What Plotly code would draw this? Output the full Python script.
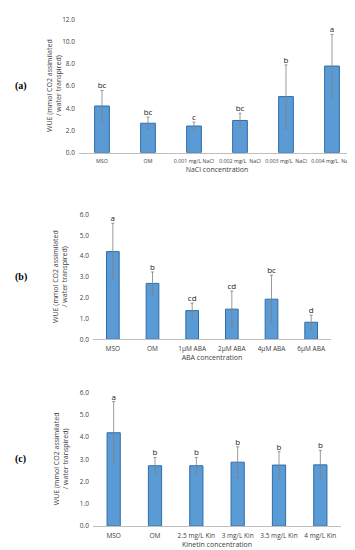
import plotly.graph_objects as go

# Panel (a) NaCl
cat_a = ["MSO", "OM", "0.001 mg/L NaCl", "0.002 mg/L  NaCl", "0.003 mg/L  NaCl", "0.004 mg/L  NaCl"]
val_a = [4.2, 2.65, 2.4, 2.9, 5.05, 7.8]
err_a = [1.4, 0.55, 0.35, 0.65, 2.85, 2.85]
let_a = ["bc", "bc", "c", "bc", "b", "a"]

# Panel (b) ABA
cat_b = ["MSO", "OM", "1\u00b5M ABA", "2\u00b5M ABA", "4\u00b5M ABA", "6\u00b5M ABA"]
val_b = [4.22, 2.69, 1.38, 1.45, 1.93, 0.82]
err_b = [1.36, 0.55, 0.36, 0.87, 1.15, 0.34]
let_b = ["a", "b", "cd", "cd", "bc", "d"]

# Panel (c) Kinetin
cat_c = ["MSO", "OM", "2.5 mg/L Kin", "3 mg/L Kin", "3.5 mg/L Kin", "4 mg/L Kin"]
val_c = [4.19, 2.71, 2.71, 2.87, 2.74, 2.75]
err_c = [1.4, 0.37, 0.37, 0.69, 0.6, 0.65]
let_c = ["a", "b", "b", "b", "b", "b"]

x_titles = ["NaCl concentration", "ABA concentration", "Kinetin concentration"]
panel_labels = ["(a)", "(b)", "(c)"]
y_ranges = [[0, 12], [0, 6], [0, 6]]
y_ticks = [[0, 2, 4, 6, 8, 10, 12], [0, 1, 2, 3, 4, 5, 6], [0, 1, 2, 3, 4, 5, 6]]

W, H = 355, 550
def px_x(a, b):
    return [a / W, b / W]
def px_y(top, bottom):
    return [(H - bottom) / H, (H - top) / H]

x_dom = [px_x(71, 347), px_x(85, 323), px_x(85, 333)]
y_dom = [px_y(6.5, 142), px_y(205, 331.7), px_y(385.7, 521.7)]
ytitle_right = [57, 63, 64]
tick_sizes = [5.3, 6.5, 6.5]

BAR = "#5B9BD5"
EDGE = "#2F6DA8"
FONT = "Open Sans"

fig = go.Figure()
panels = [(cat_a, val_a, err_a, let_a), (cat_b, val_b, err_b, let_b), (cat_c, val_c, err_c, let_c)]
for i, (cats, vals, errs, lets) in enumerate(panels):
    n = i + 1
    xa = "x" if n == 1 else f"x{n}"
    ya = "y" if n == 1 else f"y{n}"
    fig.add_trace(go.Bar(
        x=cats, y=vals, xaxis=xa, yaxis=ya, width=0.32,
        marker=dict(color=BAR, line=dict(color=EDGE, width=1)),
        error_y=dict(type="data", array=errs, color="#808080", thickness=0.8, width=1.5),
        showlegend=False,
    ))
    fig.add_trace(go.Scatter(
        x=cats, y=[v + e for v, e in zip(vals, errs)], xaxis=xa, yaxis=ya,
        mode="text", text=lets, textposition="top center",
        textfont=dict(family=FONT, size=8, color="#222222"),
        showlegend=False, cliponaxis=False,
    ))
    fig.update_layout(**{
        ("xaxis" if n == 1 else f"xaxis{n}"): dict(
            domain=x_dom[i], anchor=ya, type="category",
            showline=True, linecolor="#BFBFBF", linewidth=1, showgrid=False,
            ticks="", ticklabelstandoff=3,
            tickfont=dict(family=FONT, size=tick_sizes[i], color="#404040"),
            tickangle=0,
            title=dict(text=x_titles[i], font=dict(family=FONT, size=7, color="#404040"), standoff=2),
        ),
        ("yaxis" if n == 1 else f"yaxis{n}"): dict(
            domain=y_dom[i], anchor=xa, range=y_ranges[i], tickvals=y_ticks[i],
            tickformat=".1f", showgrid=False, showline=False, zeroline=False, ticks="",
            ticklabelstandoff=3,
            tickfont=dict(family=FONT, size=6.5, color="#404040"),
        ),
    })
    ymid = (y_dom[i][0] + y_dom[i][1]) / 2
    fig.add_annotation(
        text="WUE (mmol CO2 assimilated<br>/ water transpired)",
        xref="paper", yref="paper", x=ytitle_right[i] / W, y=ymid,
        textangle=-90, showarrow=False, xanchor="right", yanchor="middle",
        font=dict(family=FONT, size=7, color="#404040"),
    )
    fig.add_annotation(
        text=f"<b>{panel_labels[i]}</b>", xref="paper", yref="paper",
        x=0.015, y=ymid, showarrow=False, xanchor="left", yanchor="middle",
        font=dict(family="Liberation Serif", size=10, color="#000000"),
    )

fig.update_layout(
    width=W, height=H, margin=dict(l=0, r=0, t=0, b=0),
    paper_bgcolor="white", plot_bgcolor="white", bargap=0.6,
)
fig.write_html("out.html")
